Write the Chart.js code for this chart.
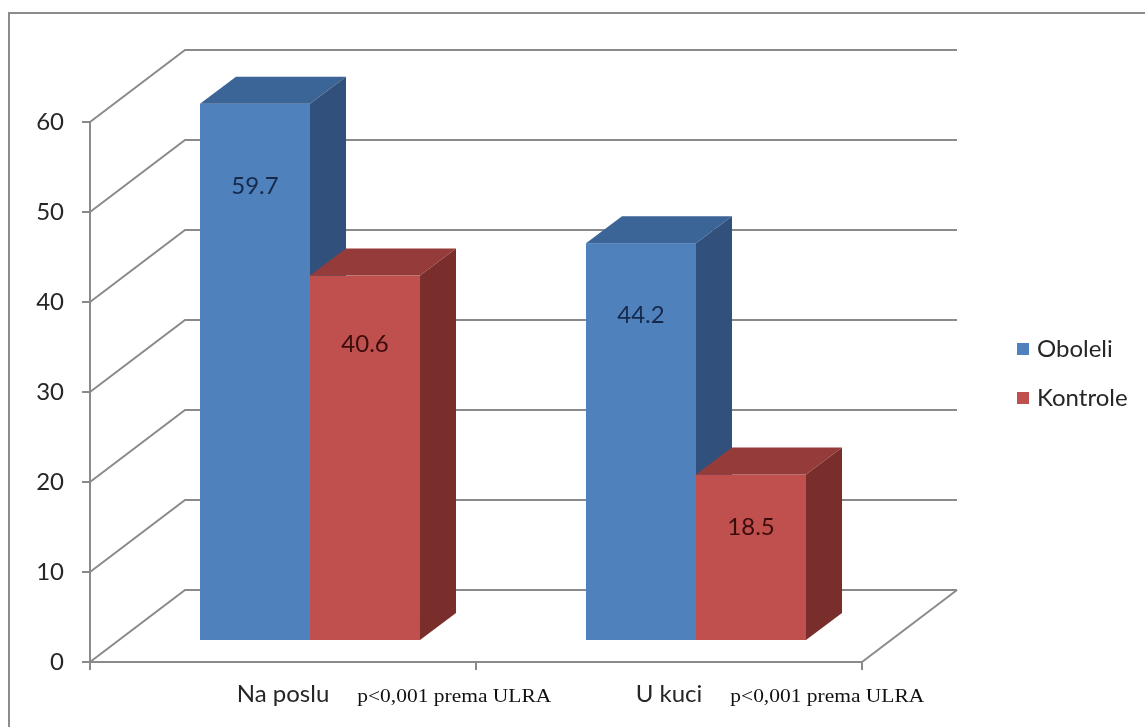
<!DOCTYPE html>
<html>
<head>
<meta charset="utf-8">
<script src="https://cdn.jsdelivr.net/npm/chart.js@4.4.1/dist/chart.umd.min.js"></script>
<style>
  html, body { margin: 0; padding: 0; background: #fff; }
  #wrap { width: 1145px; height: 727px; position: relative; }
</style>
</head>
<body>
<div id="wrap"><canvas id="chart" width="1145" height="727"></canvas></div>
<script>
// data
const categories = ["Na poslu", "U kuci"];
const seriesNames = ["Oboleli", "Kontrole"];
const oboleli = [59.7, 44.2];
const kontrole = [40.6, 18.5];
const notes = ["p<0,001 prema ULRA", "p<0,001 prema ULRA"];
const yMax = 60;
const yStep = 10;

// look of the 3d boxes
const palette = [
  { front: "#4f81bd", top: "#3c6597", side: "#31507b", label: "#17294a" },
  { front: "#c0504d", top: "#953c3a", side: "#7a2e2c", label: "#3a0c0c" }
];
const WALL = { dx: 95, dy: -72 };   // depth of the floor / back wall
const BAR_OFF = { dx: 27, dy: -21 }; // bars sit inside the floor
const BAR_D = { dx: 36, dy: -27 };   // depth of one bar
const GRID = "#8a8a8a";
const SANS = "Lato, 'Open Sans', sans-serif";
const FS = 24;

function drawBox(ctx, x0, x1, yTop, yBot, c) {
  ctx.fillStyle = c.front;
  ctx.fillRect(x0, yTop, x1 - x0, yBot - yTop);
  ctx.fillStyle = c.top;
  ctx.beginPath();
  ctx.moveTo(x0, yTop);
  ctx.lineTo(x0 + BAR_D.dx, yTop + BAR_D.dy);
  ctx.lineTo(x1 + BAR_D.dx, yTop + BAR_D.dy);
  ctx.lineTo(x1, yTop);
  ctx.closePath();
  ctx.fill();
  ctx.fillStyle = c.side;
  ctx.beginPath();
  ctx.moveTo(x1, yTop);
  ctx.lineTo(x1 + BAR_D.dx, yTop + BAR_D.dy);
  ctx.lineTo(x1 + BAR_D.dx, yBot + BAR_D.dy);
  ctx.lineTo(x1, yBot);
  ctx.closePath();
  ctx.fill();
}

const threeD = {
  id: "threeD",
  beforeDraw(chart) {
    const ctx = chart.ctx;
    ctx.save();
    // outer frame
    ctx.strokeStyle = "#8c8c8c";
    ctx.lineWidth = 2;
    ctx.beginPath();
    ctx.moveTo(9, chart.height + 5);
    ctx.lineTo(9, 13);
    ctx.lineTo(chart.width + 5, 13);
    ctx.stroke();
    ctx.restore();
  },
  beforeDatasetsDraw(chart) {
    const ctx = chart.ctx;
    const { left, right, bottom } = chart.chartArea;
    const y = chart.scales.y;
    ctx.save();
    ctx.strokeStyle = GRID;
    ctx.lineWidth = 2;
    // back wall grid + side wall diagonals
    y.ticks.forEach(t => {
      const py = y.getPixelForValue(t.value);
      ctx.beginPath();
      ctx.moveTo(left, py);
      ctx.lineTo(left + WALL.dx, py + WALL.dy);
      ctx.lineTo(right + WALL.dx, py + WALL.dy);
      ctx.stroke();
    });
    // right edge of the floor
    ctx.beginPath();
    ctx.moveTo(right, bottom);
    ctx.lineTo(right + WALL.dx, bottom + WALL.dy);
    ctx.stroke();

    // boxes, left to right, front series first
    const metas = chart.data.datasets.map((d, i) => chart.getDatasetMeta(i));
    categories.forEach((c, ci) => {
      metas.forEach((m, di) => {
        const el = m.data[ci];
        const x0 = el.x - el.width / 2 + BAR_OFF.dx;
        const x1 = el.x + el.width / 2 + BAR_OFF.dx;
        drawBox(ctx, x0, x1, el.y + BAR_OFF.dy, el.base + BAR_OFF.dy, palette[di]);
      });
    });

    // value labels inside the upper part of the bars
    ctx.font = FS + "px " + SANS;
    ctx.textAlign = "center";
    ctx.textBaseline = "middle";
    metas.forEach((m, di) => {
      m.data.forEach((el, ci) => {
        const h = el.base - el.y;
        const v = chart.data.datasets[di].data[ci];
        ctx.fillStyle = palette[di].label;
        ctx.fillText(v.toFixed(1), el.x + BAR_OFF.dx, el.y + BAR_OFF.dy + 40 + 0.08 * h);
      });
    });

    // p-value notes next to the category labels
    const x = chart.scales.x;
    categories.forEach((c, ci) => {
      ctx.font = FS + "px " + SANS;
      const lw = ctx.measureText(c).width;
      const sx = x.getPixelForValue(ci) + lw / 2 + 28;
      ctx.save();
      ctx.translate(sx, 702);
      ctx.scale(1.13, 1);
      ctx.font = "19px 'Liberation Serif', 'Times New Roman', serif";
      ctx.fillStyle = "#111";
      ctx.textAlign = "left";
      ctx.textBaseline = "alphabetic";
      ctx.fillText(notes[ci], 0, 0);
      ctx.restore();
    });

    // legend
    ctx.font = FS + "px " + SANS;
    ctx.textAlign = "left";
    ctx.textBaseline = "middle";
    seriesNames.forEach((n, i) => {
      const ly = 349 + i * 49;
      ctx.fillStyle = palette[i].front;
      ctx.fillRect(1017, ly - 6, 12, 12);
      ctx.fillStyle = "#262626";
      ctx.fillText(n, 1037, ly);
    });
    ctx.restore();
    return false;
  }
};

new Chart(document.getElementById("chart"), {
  type: "bar",
  data: {
    labels: categories,
    datasets: [
      { label: seriesNames[0], data: oboleli, backgroundColor: palette[0].front },
      { label: seriesNames[1], data: kontrole, backgroundColor: palette[1].front }
    ]
  },
  options: {
    responsive: false,
    animation: false,
    events: [],
    layout: { padding: { top: 122, right: 283, bottom: 0, left: 0 } },
    datasets: { bar: { categoryPercentage: 0.57, barPercentage: 1 } },
    plugins: { legend: { display: false }, tooltip: { enabled: false } },
    scales: {
      x: {
        grid: { drawOnChartArea: false, drawTicks: true, tickLength: 8, color: GRID, lineWidth: 2 },
        border: { display: true, color: GRID, width: 2 },
        ticks: { color: "#262626", font: { family: SANS, size: FS }, padding: 10 },
        afterFit(s) { s.height = 65; }
      },
      y: {
        min: 0,
        max: yMax,
        grid: { drawOnChartArea: false, drawTicks: true, tickLength: 8, color: GRID, lineWidth: 2 },
        border: { display: true, color: GRID, width: 2 },
        ticks: { stepSize: yStep, color: "#262626", font: { family: SANS, size: FS }, padding: 18 },
        afterFit(s) { s.width = 90; }
      }
    }
  },
  plugins: [threeD]
});
</script>
</body>
</html>
